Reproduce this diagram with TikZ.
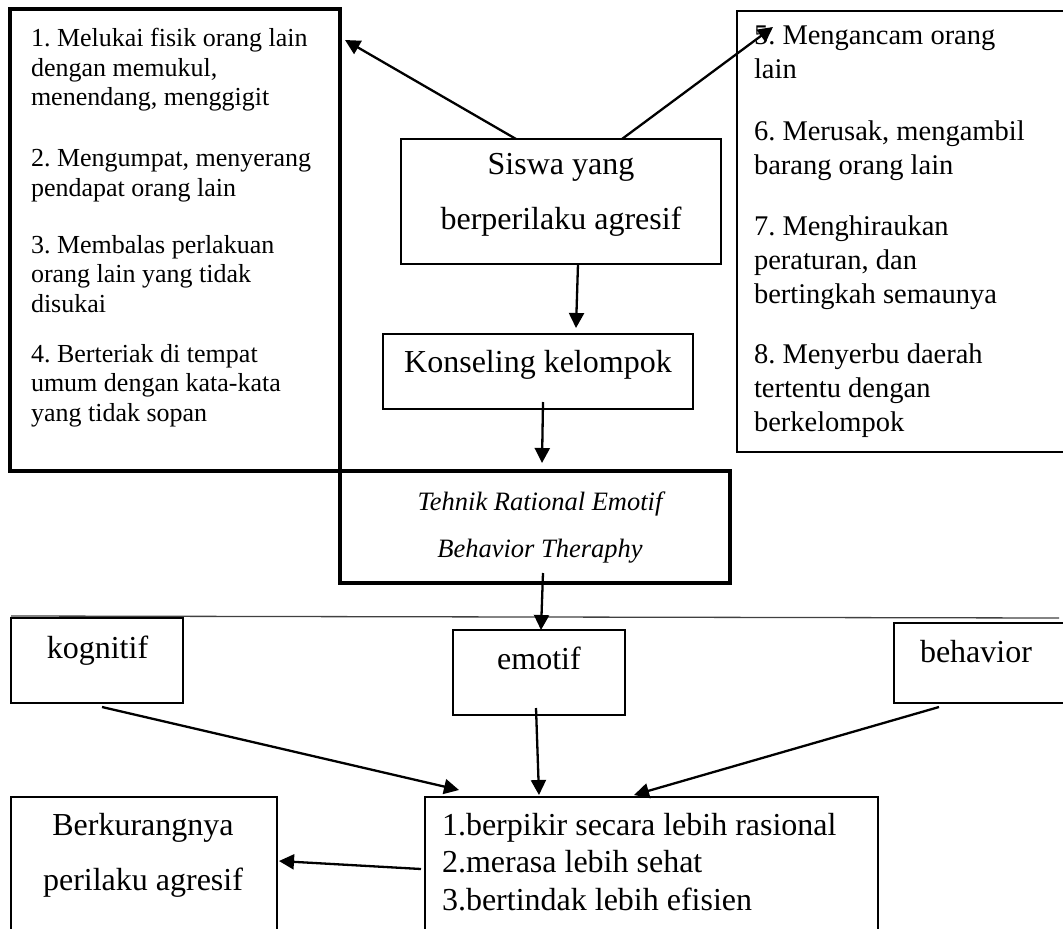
\documentclass[tikz,border=0pt]{standalone}
\usepackage{fontspec}
\setmainfont{Liberation Serif}
\usetikzlibrary{arrows.meta}
\frenchspacing
\begin{document}
\begin{tikzpicture}[x=1pt,y=-1pt,
  box/.style={draw, line width=2.3pt, rectangle, inner sep=0pt, outer sep=0pt, anchor=north west},
  thickbox/.style={box, line width=3.2pt},
  arr/.style={line width=2.3pt, -{Triangle[length=15pt,width=15pt]}},
  txt/.style={inner sep=0pt, outer sep=0pt},
  small/.style={font=\fontsize{26}{29.5}\selectfont},
  medium/.style={font=\fontsize{28.5}{34}\selectfont},
  big/.style={font=\fontsize{32}{55}\selectfont},
]
\useasboundingbox (0,0) rectangle (1063,929);

% boxes
\node[thickbox, minimum width=330pt, minimum height=462pt] (L) at (10,9) {};
\node[box, minimum width=340pt, minimum height=441pt] (R) at (737,11) {};
\node[box, minimum width=320pt, minimum height=125pt] (S) at (401,139) {};
\node[box, minimum width=310pt, minimum height=75pt] (K) at (383,334) {};
\node[thickbox, minimum width=390pt, minimum height=112pt] (T) at (340,471) {};
\node[box, minimum width=172pt, minimum height=85pt] (kog) at (11,618) {};
\node[box, minimum width=172pt, minimum height=85pt] (emo) at (453,630) {};
\node[box, minimum width=180pt, minimum height=80pt] (beh) at (894,623) {};
\node[box, minimum width=453pt, minimum height=170pt] (res) at (425,797) {};
\node[box, minimum width=266pt, minimum height=170pt] (berk) at (11,797) {};

% left list
\node[txt, small, align=left, anchor=north west] (L1) at (31,28.2) {1. Melukai fisik orang lain\\dengan memukul,\\menendang, menggigit};
\node[txt, small, align=left, anchor=north west] (L2) at (31,149.4) {2. Mengumpat, menyerang\\pendapat orang lain};
\node[txt, small, align=left, anchor=north west] (L3) at (31,235.2) {3. Membalas perlakuan\\orang lain yang tidak\\disukai};
\node[txt, small, align=left, anchor=north west] (L4) at (31,344.2) {4. Berteriak di tempat\\umum dengan kata-kata\\yang tidak sopan};

% right list
\node[txt, medium, align=left, anchor=north west] (R5) at (754,25.9) {5. Mengancam orang\\lain};
\node[txt, medium, align=left, anchor=north west] (R6) at (754,120.9) {6. Merusak, mengambil\\barang orang lain};
\node[txt, medium, align=left, anchor=north west] (R7) at (754,215.9) {7. Menghiraukan\\peraturan, dan\\bertingkah semaunya};
\node[txt, medium, align=left, anchor=north west] (R8) at (754,343.9) {8. Menyerbu daerah\\tertentu dengan\\berkelompok};

% centred texts
\node[txt, big, align=center, anchor=north] (St) at (561,153.8) {Siswa yang\\berperilaku agresif};
\node[txt, big, anchor=base] (Kt) at (538,372) {Konseling kelompok};
\node[txt, font=\fontsize{26.5}{47}\selectfont\itshape, align=center, anchor=north] (Tt) at (540,491.9) {Tehnik Rational Emotif\\Behavior Theraphy};
\node[txt, big, anchor=base] (kogt) at (97.5,658) {kognitif};
\node[txt, big, anchor=base] (emot) at (539,669) {emotif};
\node[txt, big, anchor=base] (beht) at (976,662) {behavior};
\node[txt, font=\fontsize{32}{37.5}\selectfont, align=left, anchor=north west] (rest) at (442,813.1) {1.berpikir secara lebih rasional\\2.merasa lebih sehat\\3.bertindak lebih efisien};
\node[txt, big, align=center, anchor=north] (berkt) at (143,813.1) {Berkurangnya\\perilaku agresif};

% horizontal rule
\coordinate (h1) at (11,616);
\coordinate (h2) at (1059,618);
\draw[line width=1.3pt, black!75] (h1) -- (h2);

% connectors
\draw[arr] ([shift={(-45,0)}]S.north) -- ([shift={(5,31)}]L.north east);
\draw[arr] ([shift={(61,0)}]S.north) -- ([shift={(36,16)}]R.north west);
\draw[arr] ([shift={(17,0)}]S.south) -- ([shift={(38,-6)}]K.north);
\draw[arr] ([shift={(5,-7)}]K.south) -- ([shift={(7,-8)}]T.north);
\draw[arr] ([shift={(8,-10)}]T.south) -- ([shift={(2,0)}]emo.north);
\draw[arr] ([shift={(5,4)}]kog.south) -- ([shift={(34,-7)}]res.north west);
\draw[arr] ([shift={(-3,-7)}]emo.south) -- ([shift={(114,-2)}]res.north west);
\draw[arr] ([shift={(45,4)}]beh.south west) -- ([shift={(209,-2)}]res.north west);
\draw[arr] ([shift={(-4,72)}]res.north west) -- ([shift={(2,64)}]berk.north east);
\end{tikzpicture}
\end{document}
